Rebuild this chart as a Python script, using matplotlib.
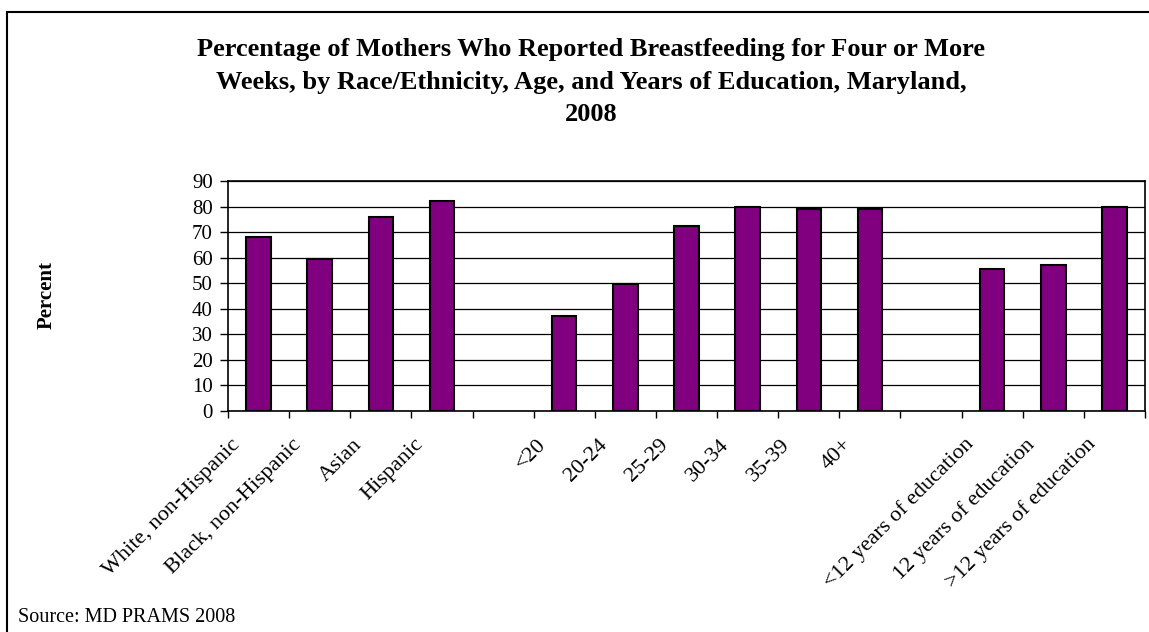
import numpy as np
import matplotlib.pyplot as plt
from matplotlib.patches import Rectangle
from matplotlib.transforms import ScaledTranslation

plt.rcParams['font.family'] = ['Liberation Serif', 'DejaVu Serif']

# categories (empty string = gap slot between groups)
labels = ["White, non-Hispanic", "Black, non-Hispanic", "Asian", "Hispanic", "",
          "<20", "20-24", "25-29", "30-34", "35-39", "40+", "",
          "<12 years of education", "12 years of education", ">12 years of education"]
values = [68.2, 59.6, 76.0, 82.2, np.nan,
          37.2, 49.8, 72.4, 79.7, 79.0, 79.0, np.nan,
          55.4, 57.1, 79.7]

title = ("Percentage of Mothers Who Reported Breastfeeding for Four or More\n"
         "Weeks, by Race/Ethnicity, Age, and Years of Education, Maryland,\n2008")

fig = plt.figure(figsize=(11.49, 6.32), dpi=100)
ax = fig.add_axes([228 / 1149, 1 - 411 / 632, 917 / 1149, 230 / 632])

x = np.arange(len(labels))
ax.bar(x, values, width=0.4, color='#800080', edgecolor='black', linewidth=1.5, zorder=3)

ax.set_xlim(-0.5, len(labels) - 0.5)
ax.set_ylim(0, 90)
ax.set_yticks(np.arange(0, 91, 10))
ax.yaxis.grid(True, color='black', linewidth=0.9, zorder=0)
for s in ax.spines.values():
    s.set_linewidth(1.2)
    s.set_color('black')

# tick marks on category boundaries, labels drawn separately under the bars
ax.set_xticks(np.arange(-0.5, len(labels), 1))
ax.set_xticklabels([])
ax.tick_params(axis='x', direction='out', length=5, width=1)
ax.tick_params(axis='y', direction='out', length=6, width=1, labelsize=15, pad=5)

off = ScaledTranslation(-18 / 100, -34 / 100, fig.dpi_scale_trans)
for xi, lab in zip(x, labels):
    if lab:
        ax.text(xi, 0, lab, rotation=45, rotation_mode='anchor', ha='right', va='baseline',
                fontsize=16, transform=ax.get_xaxis_transform() + off)

fig.text(47 / 1149, 1 - 295 / 632, "Percent", rotation=90, fontsize=15,
         fontweight='bold', ha='center', va='center')

fig.text(0.5 * (148 + 1034) / 1149, 1 - 82 / 632, title, ha='center', va='center',
         fontsize=19, fontweight='bold', linespacing=1.52)

fig.text(18 / 1149, 1 - 617 / 632, "Source: MD PRAMS 2008", fontsize=14.5,
         ha='left', va='center')

fig.patches.append(Rectangle((7 / 1149, -0.1), 1.2, 1 - 12 / 632 + 0.1,
                             transform=fig.transFigure, fill=False,
                             edgecolor='black', linewidth=1.5))

fig.savefig('out.png', dpi=100)
